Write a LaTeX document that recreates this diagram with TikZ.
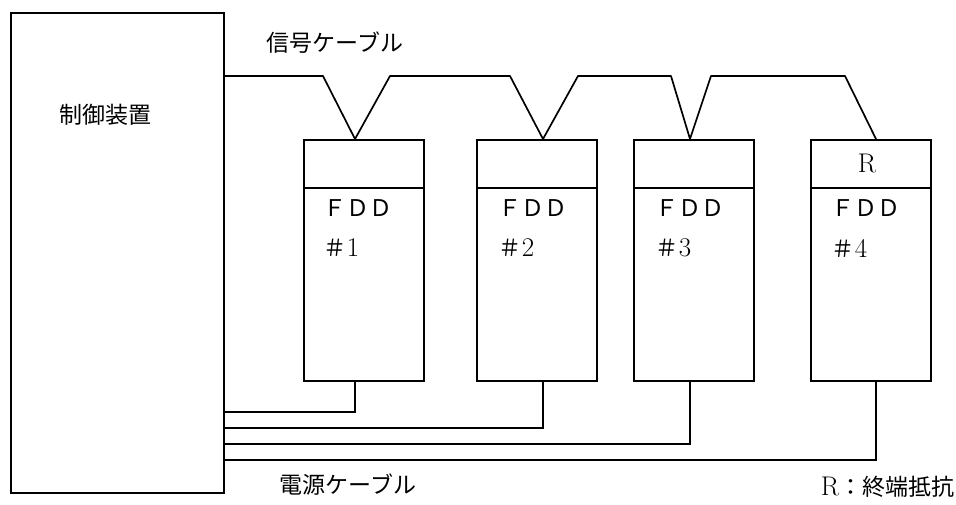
\documentclass[tikz,border=0pt]{standalone}
\usepackage{fontspec}
\newfontfamily\jp{Noto Sans CJK JP}
\begin{document}
\begin{tikzpicture}[x=1pt,y=-1pt,line width=1.7pt,
  box/.style={draw,rectangle,anchor=north west,inner sep=0pt,minimum width=#1,minimum height=241pt},
  lbl/.style={inner sep=0pt,font=\fontsize{23}{28}\selectfont\jp},
  fddtext/.style={inner sep=0pt,anchor=west,font=\fontsize{23}{28}\selectfont},
  latin/.style={font=\fontsize{27}{32}\selectfont}]
\useasboundingbox (0,0) rectangle (956,504);
% control unit
\node[draw,rectangle,anchor=north west,inner sep=0pt,minimum width=213pt,minimum height=480pt] (ctrl) at (10,12) {};
\node[lbl] (ctrltxt) at (105,115) {制御装置};
% FDD boxes
\node[box=120pt] (f1) at (303,139) {};
\node[box=120pt] (f2) at (476,139) {};
\node[box=120pt] (f3) at (633,139) {};
\node[box=120pt] (f4) at (810,139) {};
\foreach \b in {f1,f2,f3,f4}{
  \draw ([yshift=-49pt]\b.north west) -- ([yshift=-49pt]\b.north east);
}
\node[fddtext] (t1) at (323,208) {{\jp ＦＤＤ}};
\node[fddtext] (t2) at (498,208) {{\jp ＦＤＤ}};
\node[fddtext] (t3) at (655,208) {{\jp ＦＤＤ}};
\node[fddtext] (t4) at (831,208) {{\jp ＦＤＤ}};
\node[fddtext] (n1) at (323,248) {{\jp ＃}{\fontsize{27}{32}\selectfont 1}};
\node[fddtext] (n2) at (498,248) {{\jp ＃}{\fontsize{27}{32}\selectfont 2}};
\node[fddtext] (n3) at (655,248) {{\jp ＃}{\fontsize{27}{32}\selectfont 3}};
\node[fddtext] (n4) at (831,248) {{\jp ＃}{\fontsize{27}{32}\selectfont 4}};
\node[inner sep=0pt,latin] (r) at (867,163) {R};
% signal cable
\coordinate (s0) at (ctrl.north east |- 0,76);
\coordinate (v1) at (f1.north west -| 355,0);
\coordinate (v2) at (f2.north west -| 543,0);
\coordinate (v3) at (f3.north west -| 690,0);
\coordinate (v4) at (f4.north west -| 876,0);
\draw[line join=round] (s0) -- (323,76) -- (v1) -- (390,76) -- (510,76) -- (v2) -- (578,76)
  -- (671,76) -- (v3) -- (711,76) -- (845,76) -- (v4);
\node[lbl] (sigtxt) at (335,43) {信号ケーブル};
% power cables
\coordinate (p1) at (f1.south west -| 355,0);
\coordinate (p2) at (f2.south west -| 543,0);
\coordinate (p3) at (f3.south west -| 690,0);
\coordinate (p4) at (f4.south west -| 876,0);
\draw (ctrl.east |- 0,412) -| (p1);
\draw (ctrl.east |- 0,428) -| (p2);
\draw (ctrl.east |- 0,444) -| (p3);
\draw (ctrl.east |- 0,460) -| (p4);
\node[lbl] (powtxt) at (348,485) {電源ケーブル};
\node[inner sep=0pt,anchor=east,font=\fontsize{23}{28}\selectfont] (legend) at (955,487) {{\fontsize{27}{32}\selectfont R}{\jp ：終端抵抗}};
\end{tikzpicture}
\end{document}
